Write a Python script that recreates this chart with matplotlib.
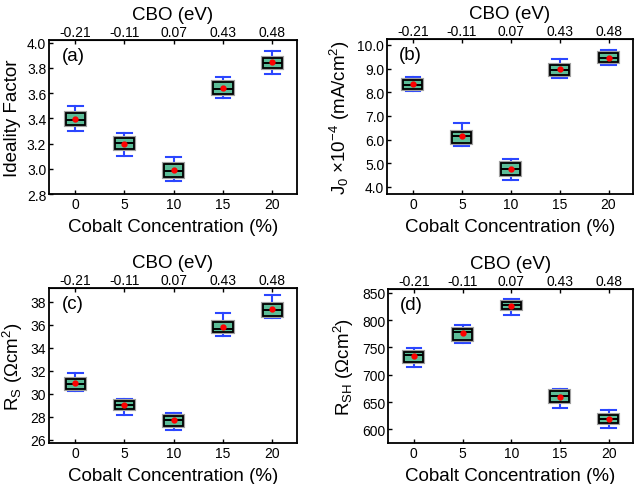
import matplotlib
matplotlib.use("Agg")
import matplotlib.pyplot as plt
import matplotlib.patheffects as pe

plt.rcParams['font.family'] = ['Liberation Sans', 'DejaVu Sans']
plt.rcParams['mathtext.fontset'] = 'custom'
plt.rcParams['mathtext.rm'] = 'Liberation Sans'
plt.rcParams['mathtext.it'] = 'Liberation Sans'
plt.rcParams['mathtext.default'] = 'regular'

# ---- data ----
cobalt = [0, 5, 10, 15, 20]
cbo_labels = ['-0.21', '-0.11', '0.07', '0.43', '0.48']

# (a) Ideality factor
n_lo   = [3.30, 3.10, 2.90, 3.56, 3.75]
n_q1   = [3.345, 3.155, 2.937, 3.593, 3.80]
n_med  = [3.39, 3.207, 2.984, 3.63, 3.837]
n_q3   = [3.44, 3.246, 3.038, 3.684, 3.876]
n_hi   = [3.50, 3.28, 3.09, 3.723, 3.933]
n_mean = [3.395, 3.199, 2.99, 3.637, 3.842]

# (b) J0 x1e-4
j_lo   = [8.07, 5.71, 4.31, 8.61, 9.16]
j_q1   = [8.14, 5.84, 4.52, 8.72, 9.26]
j_med  = [8.32, 6.16, 4.76, 8.95, 9.43]
j_q3   = [8.50, 6.34, 5.01, 9.16, 9.64]
j_hi   = [8.65, 6.70, 5.16, 9.40, 9.79]
j_mean = [8.33, 6.14, 4.76, 8.98, 9.45]

# (c) Rs
rs_lo   = [30.22, 28.15, 26.84, 35.03, 36.63]
rs_q1   = [30.43, 28.62, 27.19, 35.38, 36.72]
rs_med  = [30.81, 28.97, 27.69, 35.67, 37.30]
rs_q3   = [31.24, 29.38, 28.07, 36.22, 37.83]
rs_hi   = [31.82, 29.52, 28.33, 37.01, 38.61]
rs_mean = [30.89, 29.03, 27.66, 35.82, 37.33]

# (d) Rsh
rsh_lo   = [715, 759, 810, 640, 602]
rsh_q1   = [724, 764, 819.5, 650, 611]
rsh_med  = [736, 778, 827.4, 661, 619]
rsh_q3   = [742, 783.5, 834, 670.7, 625.6]
rsh_hi   = [749.4, 791.5, 838.4, 674.4, 635.4]
rsh_mean = [734, 775.6, 826.2, 659.8, 618.9]

panels = [
    dict(lo=n_lo, q1=n_q1, med=n_med, q3=n_q3, hi=n_hi, mean=n_mean,
         ylim=(2.8, 4.02), yticks=[2.8, 3.0, 3.2, 3.4, 3.6, 3.8, 4.0], fmt='{:.1f}',
         ylabel='Ideality Factor', tag='(a)', rect=[49, 41, 297, 195]),
    dict(lo=j_lo, q1=j_q1, med=j_med, q3=j_q3, hi=j_hi, mean=j_mean,
         ylim=(3.7, 10.25), yticks=[4, 5, 6, 7, 8, 9, 10], fmt='{:.1f}',
         ylabel=r'J$_0$ $\times$10$^{-4}$ (mA/cm$^2$)', tag='(b)', rect=[387, 40, 633, 195]),
    dict(lo=rs_lo, q1=rs_q1, med=rs_med, q3=rs_q3, hi=rs_hi, mean=rs_mean,
         ylim=(25.7, 39.2), yticks=[26, 28, 30, 32, 34, 36, 38], fmt='{:.0f}',
         ylabel=r'R$_S$ ($\Omega$cm$^2$)', tag='(c)', rect=[49, 289, 297, 444]),
    dict(lo=rsh_lo, q1=rsh_q1, med=rsh_med, q3=rsh_q3, hi=rsh_hi, mean=rsh_mean,
         ylim=(575, 857), yticks=[600, 650, 700, 750, 800, 850], fmt='{:.0f}',
         ylabel=r'R$_{SH}$ ($\Omega$cm$^2$)', tag='(d)', rect=[388, 290, 633, 444]),
]

W, H = 638, 485
fig = plt.figure(figsize=(W / 100, H / 100), dpi=100)

box_fc = '#5cbd98'
whisk_c = '#2b46ff'
shadow = [pe.withStroke(linewidth=3.0, foreground='#a0a0a0')]

for p in panels:
    x0, y0, x1, y1 = p['rect']
    ax = fig.add_axes([x0 / W, (H - y1) / H, (x1 - x0) / W, (y1 - y0) / H])
    stats = []
    for i in range(len(cobalt)):
        stats.append(dict(whislo=p['lo'][i], q1=p['q1'][i], med=p['med'][i],
                          q3=p['q3'][i], whishi=p['hi'][i], mean=p['mean'][i], fliers=[]))
    bp = ax.bxp(stats, positions=cobalt, widths=1.95, capwidths=1.5,
                patch_artist=True, showmeans=True,
                boxprops=dict(facecolor=box_fc, edgecolor='black', linewidth=1.3),
                medianprops=dict(color='black', linewidth=1.4),
                whiskerprops=dict(color=whisk_c, linewidth=1.5),
                capprops=dict(color=whisk_c, linewidth=1.5),
                meanprops=dict(marker='o', markerfacecolor='red', markeredgecolor='red',
                               markersize=3.5))
    for b in bp['boxes']:
        b.set_path_effects(shadow)
        b.set_zorder(3)
    for m in bp['medians']:
        m.set_zorder(4)
    for m in bp['means']:
        m.set_zorder(5)

    ax.set_xlim(-2.65, 22.5)
    ax.set_ylim(*p['ylim'])
    ax.set_xticks(cobalt)
    ax.set_xticklabels([str(c) for c in cobalt])
    ax.set_yticks(p['yticks'])
    ax.set_yticklabels([p['fmt'].format(v) for v in p['yticks']])
    ax.tick_params(direction='in', length=3, width=1, labelsize=10, pad=2)
    ax.set_xlabel('Cobalt Concentration (%)', fontsize=13.5, labelpad=5)
    ax.set_ylabel(p['ylabel'], fontsize=13.5, labelpad=4)
    ax.text(0.05, 0.90, p['tag'], transform=ax.transAxes, fontsize=13.5,
            ha='left', va='center')
    for s in ax.spines.values():
        s.set_linewidth(1.3)

    top = ax.secondary_xaxis('top')
    top.set_xticks(cobalt)
    top.set_xticklabels(cbo_labels)
    top.tick_params(direction='in', length=3, width=1, labelsize=10, pad=1)
    top.set_xlabel('CBO (eV)', fontsize=13.5, labelpad=4)

fig.savefig('out.png', dpi=100)
